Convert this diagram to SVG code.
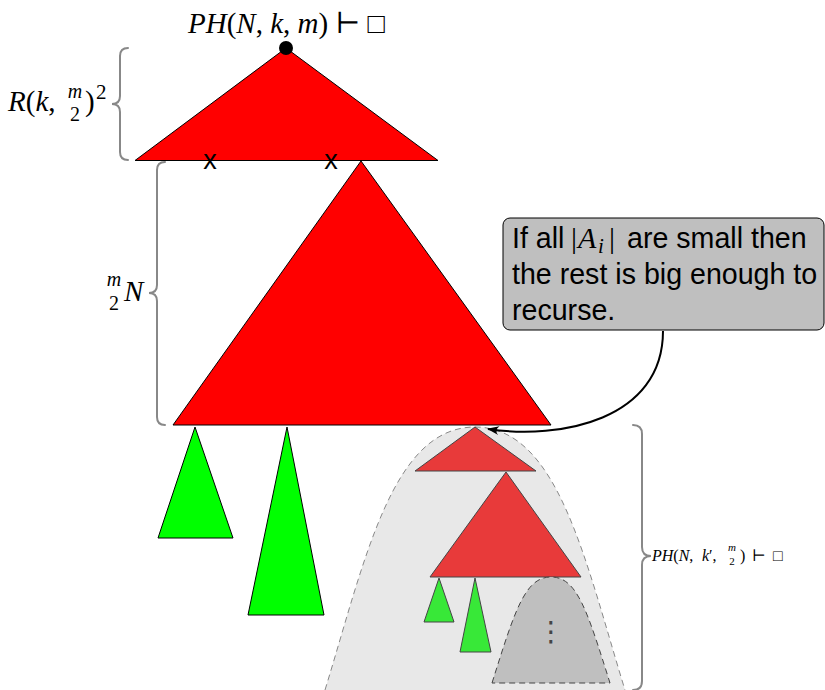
<svg xmlns="http://www.w3.org/2000/svg" width="825" height="690" viewBox="0 0 825 690">
<style>
.math{font-family:"Liberation Serif","DejaVu Serif",serif;fill:#000}
.it{font-style:italic}
.sans{font-family:"Liberation Sans",Arial,sans-serif;fill:#000}
.brace{fill:none;stroke:#888;stroke-width:2;stroke-linecap:round}
.big{stroke:#000;stroke-width:1}
.red{fill:#ff0000}
.green{fill:#00ff00}
.sred{fill:#e83a3a;stroke:#444;stroke-width:1}
.sgreen{fill:#38e838;stroke:#444;stroke-width:1}
</style>
<defs>
<marker id="arr" viewBox="0 0 12 10" refX="11" refY="5" markerWidth="12" markerHeight="10" markerUnits="userSpaceOnUse" orient="auto">
<path d="M0,0.5 Q5,5 0,9.5 L12,5 Z" fill="#000"/>
</marker>
</defs>

<g id="recursion-region">
<path d="M325,690 C365,560 392,427 475,427 C558,427 585,560 625,690" fill="#e8e8e8" stroke="#888" stroke-width="1" stroke-dasharray="6,4"/>
</g>

<g id="top-tree">
<polygon class="big red" points="286,48 135,160.5 438,160.5"/>
<circle cx="286" cy="48" r="7" fill="#000"/>
<text class="sans" x="210" y="168.5" font-size="27" text-anchor="middle">x</text>
<text class="sans" x="331" y="168.5" font-size="27" text-anchor="middle">x</text>
</g>

<g id="middle-tree">
<polygon class="big red" points="361,161 173,425 551,425"/>
</g>

<g id="green-1"><polygon class="big green" points="195,427 158,538 233,538"/></g>
<g id="green-2"><polygon class="big green" points="287,427 248,615 324,615"/></g>

<g id="sub-top"><polygon class="sred" points="475,427 415,471 536,471"/></g>
<g id="sub-middle"><polygon class="sred" points="506,472 430,577 581,577"/></g>
<g id="sub-green-1"><polygon class="sgreen" points="439,578 424,622 454,622"/></g>
<g id="sub-green-2"><polygon class="sgreen" points="475,578 460,652 491,652"/></g>

<g id="sub-recursion">
<path d="M492,683 C515,610 525,577 551,577 C577,577 587,610 610,683 Z" fill="#bfbfbf" stroke="#444" stroke-width="1" stroke-dasharray="6,4"/>
<text x="551" y="641" font-family="DejaVu Sans, sans-serif" font-size="28" fill="#444" text-anchor="middle">⋮</text>
</g>

<g id="callout">
<rect x="503" y="218" width="321" height="112" rx="7" fill="#bfbfbf" stroke="#000" stroke-width="1"/>
<text class="sans" x="512" y="248" font-size="28.6">If all</text>
<text class="math" y="248" font-size="30"><tspan x="571">|</tspan><tspan class="it" x="578">A</tspan><tspan class="it" font-size="21" x="598" dy="5">i</tspan><tspan x="609" dy="-5">|</tspan></text>
<text class="sans" x="627" y="248" font-size="28.6">are small then</text>
<text class="sans" x="512" y="284" font-size="28.6">the rest is big enough to</text>
<text class="sans" x="512" y="320" font-size="28.6">recurse.</text>
</g>

<g id="connectors">
<path d="M663,331 C663,420 560,440 488,429" fill="none" stroke="#000" stroke-width="2" marker-end="url(#arr)"/>
</g>

<g id="braces">
<path class="brace" d="M128,48 Q120,48 120,56 L120,96 Q120,104 112,104 Q120,104 120,112 L120,152 Q120,160 128,160"/>
<path class="brace" d="M165,162 Q157,162 157,170 L157,285 Q157,293 149,293 Q157,293 157,301 L157,417 Q157,425 165,425"/>
<path class="brace" d="M633,425 Q642,425 642,434 L642,547 Q642,556 651,556 Q642,556 642,565 L642,681 Q642,690 633,690"/>
</g>

<g id="labels">
<text class="math" x="188" y="33" font-size="29"><tspan class="it">PH</tspan>(<tspan class="it">N</tspan>, <tspan class="it">k</tspan>, <tspan class="it">m</tspan>) ⊢ □</text>
<text class="math" x="8" y="111" font-size="29"><tspan class="it">R</tspan>(<tspan class="it">k</tspan>,</text>
<text class="math it" x="75" y="98" font-size="20" text-anchor="middle">m</text>
<text class="math" x="75" y="121" font-size="20" text-anchor="middle">2</text>
<text class="math" x="85" y="111" font-size="29">)</text>
<text class="math" x="96" y="99" font-size="21">2</text>
<text class="math it" x="114" y="286" font-size="20" text-anchor="middle">m</text>
<text class="math" x="114" y="310" font-size="20" text-anchor="middle">2</text>
<text class="math it" x="124" y="301" font-size="29">N</text>
<text class="math" x="652" y="561" font-size="16"><tspan class="it">PH</tspan>(<tspan class="it">N</tspan>,</text>
<text class="math" x="702" y="561" font-size="16"><tspan class="it">k</tspan>′,</text>
<text class="math it" x="732" y="551" font-size="11" text-anchor="middle">m</text>
<text class="math" x="732" y="565" font-size="11" text-anchor="middle">2</text>
<text class="math" x="740" y="561" font-size="16">)</text>
<text class="math" x="752" y="561" font-size="16">⊢</text>
<text class="math" x="773" y="561" font-size="16">□</text>
</g>
</svg>
